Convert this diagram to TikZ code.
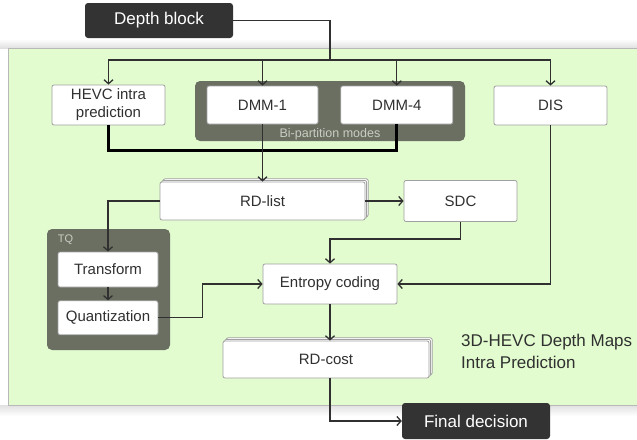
\documentclass[tikz,border=0pt]{standalone}
\usepackage{fontspec}
\setmainfont{Liberation Sans}
\usepackage{xcolor}
\usepackage{tikz}
\usetikzlibrary{arrows.meta, positioning, shadows}

\definecolor{panelGreen}{HTML}{E2FCCF}
\definecolor{groupGray}{HTML}{6A6F62}
\definecolor{groupText}{HTML}{C9CDC3}
\definecolor{darkBox}{HTML}{333333}
\definecolor{boxLine}{HTML}{A0A0A0}
\definecolor{inkGray}{HTML}{303030}

\begin{document}
\begin{tikzpicture}[x=1pt, y=-1pt, node distance=14pt,
    stagebox/.style={draw=boxLine, fill=white, text=inkGray, rounded corners=2pt, line width=0.8pt, inner sep=0pt, align=center, font=\fontsize{15}{18}\selectfont},
    stackbox/.style={stagebox, double copy shadow={shadow xshift=1.6pt, shadow yshift=1.6pt, draw=boxLine, fill=white}},
    endbox/.style={fill=darkBox, text=white, rounded corners=3pt, inner sep=0pt, font=\fontsize{17}{20}\selectfont},
    groupbox/.style={fill=groupGray, rounded corners=5pt, inner sep=0pt},
    grouplabel/.style={text=groupText, inner sep=0pt},
    flow/.style={-{Straight Barb[length=4pt, width=9pt]}, line width=1.3pt, draw=inkGray},
    mergebar/.style={line width=3pt, draw=black}]

    \useasboundingbox (0,0) rectangle (637,439);

    % Panel with soft edges
    \shade[top color=white, bottom color=black!12] (0,39) rectangle (637,48);
    \shade[top color=black!12, bottom color=white] (0,405) rectangle (637,416);
    \filldraw[fill=panelGreen, draw=black!28, line width=0.8pt] (8,48) rectangle (642,405);

    % Input and output
    \node[endbox, minimum width=148pt, minimum height=35pt] (depth_block) at (159,20.5) {Depth block};
    \node[endbox, minimum width=148pt, minimum height=36pt] (final_dec) at (476,421) {Final decision};

    % Groups
    \node[groupbox, minimum width=270pt, minimum height=60pt] (bipart_group) at (330,111) {};
    \node[grouplabel, font=\fontsize{12.5}{14}\selectfont] (bipart_label) at (330,134.5) {Bi-partition modes};
    \node[groupbox, minimum width=123pt, minimum height=121pt] (tq_group) at (108.5,289.5) {};
    \node[grouplabel, font=\fontsize{11}{13}\selectfont] (tq_label) at (65.5,239.5) {TQ};

    % Intra modes
    \node[stagebox, minimum width=113pt, minimum height=40pt] (hevc_intra) at (108.5,105) {HEVC intra\\prediction};
    \node[stagebox, minimum width=111pt, minimum height=38pt] (dmm_one) at (262.5,105) {DMM-1};
    \node[stagebox, minimum width=112pt, minimum height=38pt, right=22pt of dmm_one] (dmm_four) {DMM-4};
    \node[stagebox, minimum width=113pt, minimum height=39pt] (dis) at (550.5,105.5) {DIS};

    % Mode selection
    \node[stackbox, minimum width=205pt, minimum height=38pt] (rd_list) at (262.5,201) {RD-list};
    \node[stagebox, minimum width=113pt, minimum height=41pt] (sdc) at (460.5,201) {SDC};

    % Residual coding
    \node[stagebox, minimum width=100pt, minimum height=35pt] (transform) at (108,269.5) {Transform};
    \node[stagebox, minimum width=100pt, minimum height=34pt, below=13pt of transform] (quant) {Quantization};
    \node[stagebox, minimum width=134pt, minimum height=40pt] (entropy) at (330,284) {Entropy coding};
    \node[stackbox, minimum width=206pt, minimum height=37pt] (rd_cost) at (326,359.5) {RD-cost};

    % Caption
    \node[anchor=north west, align=left, inner sep=0pt, text=inkGray, font=\fontsize{17}{22}\selectfont] (caption) at (461,334) {3D-HEVC Depth Maps\\Intra Prediction};

    % Arrows
    \coordinate (split) at (330,60);
    \draw[line width=1.3pt, draw=inkGray] (depth_block.east) -| (split);
    \draw[flow] (split) -| (hevc_intra.north);
    \draw[flow] (split) -| (dmm_one.north);
    \draw[flow] (split) -| (dmm_four.north);
    \draw[flow] (split) -| (dis.north);

    \draw[mergebar] (hevc_intra.south) -- ++(0,25) -| (dmm_four.south);
    \draw[flow] (dmm_one.south) -- (rd_list.north);
    \draw[flow] (rd_list.east) -- (sdc.west);
    \draw[flow] (sdc.south) -- ++(0,17) -| (entropy.north);
    \draw[flow] (dis.south) |- (entropy.east);
    \draw[flow] (rd_list.west) -| (transform.north);
    \draw[flow] (transform.south) -- (quant.north);
    \draw[flow] (quant.east) -- ++(44,0) |- (entropy.west);
    \draw[flow] (entropy.south) -- (entropy.south |- rd_cost.north);
    \draw[flow] (entropy.south |- rd_cost.south) |- (final_dec.west);

\end{tikzpicture}
\end{document}
